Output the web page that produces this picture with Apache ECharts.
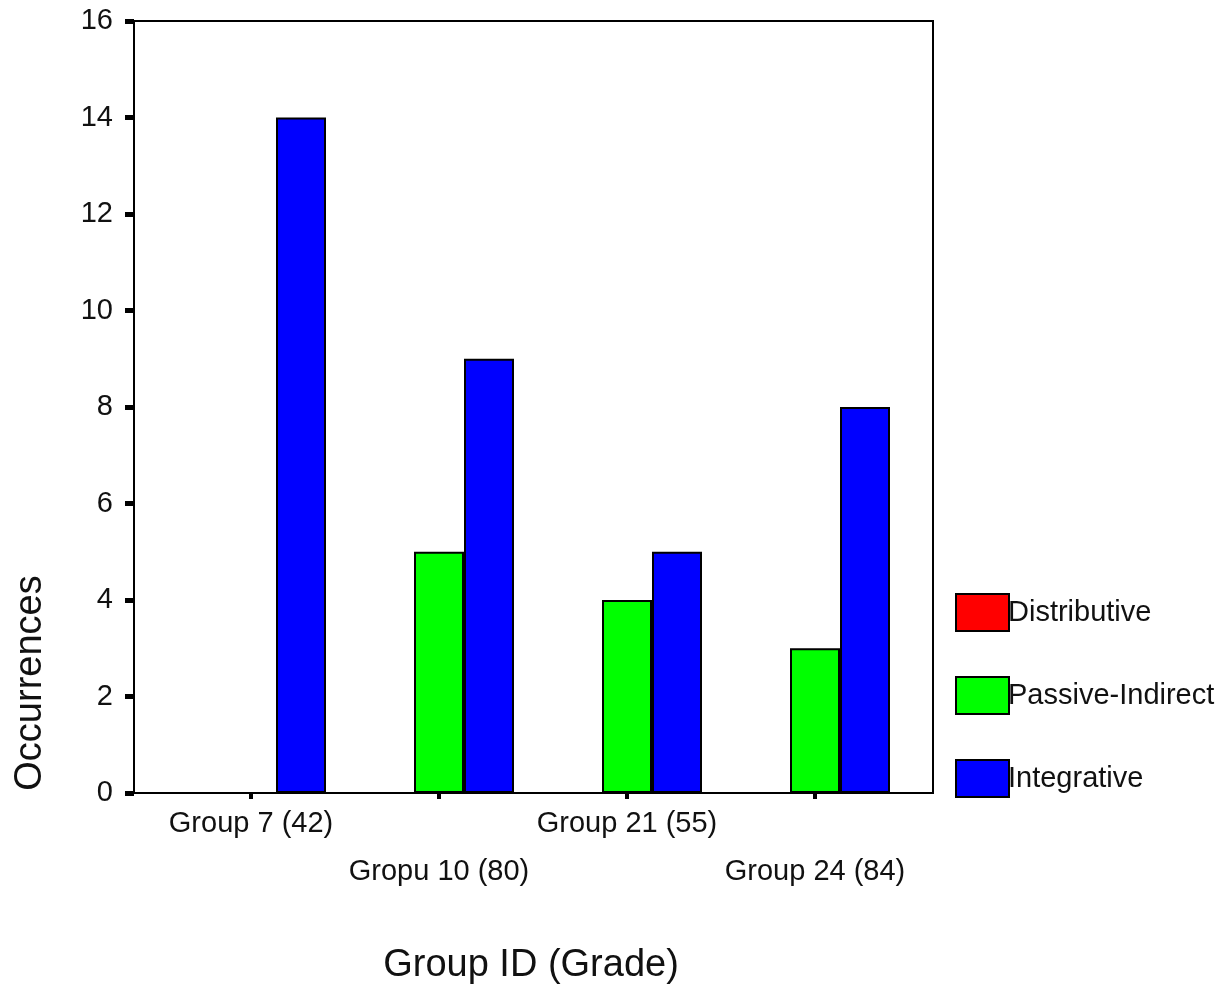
<!DOCTYPE html>
<html>
<head>
<meta charset="utf-8">
<script src="https://cdn.jsdelivr.net/npm/echarts@6/dist/echarts.min.js"></script>
<style>html,body{margin:0;padding:0;background:#fff;}#c{width:1226px;height:988px;}</style>
</head>
<body>
<div id="c"></div>
<script>
const categories = ['Group 7 (42)', 'Gropu 10 (80)', 'Group 21 (55)', 'Group 24 (84)'];
const seriesNames = ['Distributive', 'Passive-Indirect', 'Integrative'];
const distributive = [0, 0, 0, 0];
const passiveIndirect = [0, 5, 4, 3];
const integrative = [14, 9, 5, 8];
const yTicks = [0, 2, 4, 6, 8, 10, 12, 14, 16];

const colors = ['#ff0000', '#00ff00', '#0000ff'];
const values = [distributive, passiveIndirect, integrative];
const FONT = 'Liberation Sans';

const chart = echarts.init(document.getElementById('c'), null, {renderer: 'canvas'});
chart.setOption({
  backgroundColor: '#fff',
  animation: false,
  grid: [
    {left: 157, right: 317, top: 21, bottom: 195, show: false},
    {left: 134, right: 293, top: 21, bottom: 195, show: true, borderColor: '#000', borderWidth: 2, backgroundColor: 'transparent', z: 10}
  ],
  legend: {
    orient: 'vertical', left: 950, top: 588,
    itemWidth: 53, itemHeight: 37, itemGap: 44,
    icon: 'rect',
    data: seriesNames,
    textStyle: {fontFamily: FONT, fontSize: 29, color: '#111', padding: [0, 0, 0, -6]},
    itemStyle: {borderColor: '#000', borderWidth: 2}
  },
  xAxis: [
    {
      gridIndex: 0, type: 'category', data: categories, boundaryGap: true,
      axisLine: {show: false},
      axisTick: {show: true, alignWithLabel: true, length: 6, lineStyle: {color: '#000', width: 4}},
      axisLabel: {
        interval: 0, margin: 7, fontFamily: FONT, fontSize: 29, color: '#111', lineHeight: 48,
        verticalAlign: 'top',
        formatter: function (v, i) { return i % 2 === 1 ? '\n' + v : v; }
      }
    },
    {gridIndex: 1, type: 'value', show: false, min: 0, max: 1}
  ],
  yAxis: [
    {gridIndex: 0, type: 'value', min: 0, max: 16, interval: 2, show: false},
    {
      gridIndex: 1, type: 'value', min: 0, max: 16, interval: 2,
      axisLine: {show: true, lineStyle: {color: '#000', width: 2}},
      axisTick: {show: true, length: 9, lineStyle: {color: '#000', width: 5}},
      splitLine: {show: false},
      axisLabel: {margin: 21, fontFamily: FONT, fontSize: 29, color: '#111',
        formatter: function (v) { return yTicks.indexOf(v) >= 0 ? String(v) : ''; }}
    }
  ],
  series: seriesNames.map(function (name, k) {
    return {
      name: name, type: 'bar', xAxisIndex: 0, yAxisIndex: 0,
      data: values[k], barWidth: 50, barGap: '0%',
      itemStyle: {color: colors[k], borderColor: '#000', borderWidth: 2}
    };
  }),
  graphic: [
    {type: 'text', x: 31, y: 683, rotation: Math.PI / 2,
      style: {text: 'Occurrences', font: '38px "Liberation Sans"', fill: '#111', align: 'center', verticalAlign: 'middle'}},
    {type: 'text', x: 531, y: 966,
      style: {text: 'Group ID (Grade)', font: '38px "Liberation Sans"', fill: '#111', align: 'center', verticalAlign: 'middle'}}
  ]
});
</script>
</body>
</html>
